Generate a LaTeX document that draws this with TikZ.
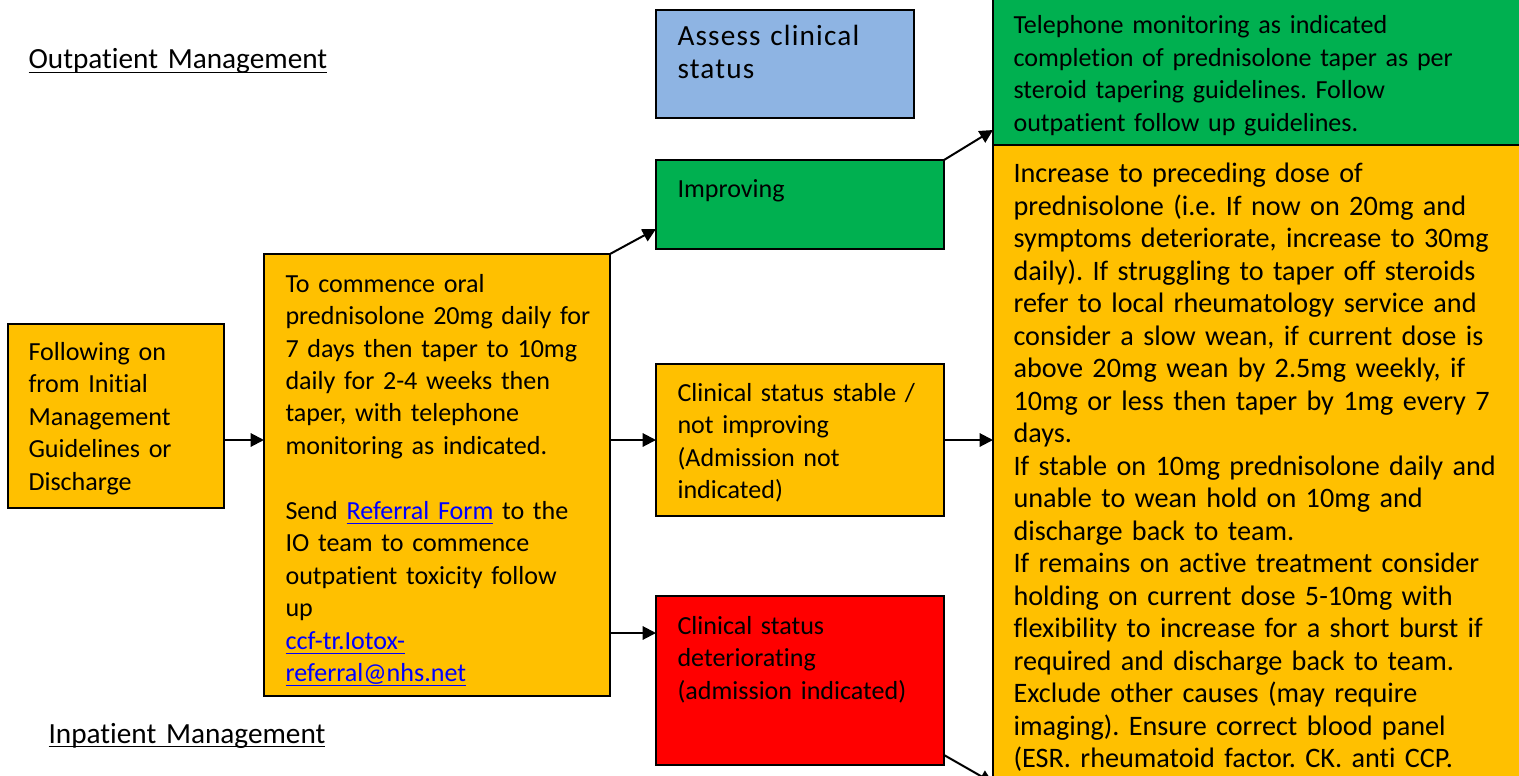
\documentclass[tikz,border=0pt]{standalone}
\usepackage{fontspec}
\setmainfont{Carlito}[Ligatures=NoCommon]
\newfontfamily\spacedfont{Carlito}[LetterSpace=4,Ligatures=NoCommon]
\usetikzlibrary{arrows.meta,calc}
\definecolor{boxorange}{RGB}{255,192,0}
\definecolor{boxgreen}{RGB}{0,176,80}
\definecolor{boxblue}{RGB}{142,180,227}
\definecolor{boxred}{RGB}{255,0,0}
\definecolor{linkblue}{RGB}{0,0,255}
\newcommand{\pxu}{0.376pt}
\newcommand{\ulin}[1]{\underline{\smash{#1}}}
\newcommand{\lnk}[1]{\textcolor{linkblue}{\ulin{#1}}}
\frenchspacing
\tikzset{
  box/.style 2 args={draw=black, line width=1pt, anchor=north west, inner sep=0pt, outer sep=0pt,
    minimum width=#1*\pxu, minimum height=#2*\pxu},
  txt/.style={anchor=base west, inner sep=0pt, align=left, text width=240pt,
    font=\fontsize{#1}{12.22}\selectfont},
  txt/.default=9.8,
  flow/.style={-{Triangle[length=5pt,width=5pt]}, line width=0.75pt},
}
\begin{document}
\begin{tikzpicture}[x=\pxu,y=\pxu,yscale=-1]
\useasboundingbox (0,0) rectangle (1519,776);
\clip (0,0) rectangle (1519,776);

%Shape: Rectangle
\node[box={216}{184}, fill=boxorange] (follow) at (8,324) {};
\node[box={346}{442}, fill=boxorange] (plan) at (264,254) {};
\node[box={258}{108}, fill=boxblue] (assess) at (656,10) {};
\node[box={288}{89}, fill=boxgreen] (improving) at (656,160) {};
\node[box={288}{152}, fill=boxorange] (stable) at (656,364) {};
\node[box={288}{169}, fill=boxred] (worse) at (656,596) {};
\node[box={600}{165}, fill=boxgreen] (steady) at (993,-20) {};
\node[box={600}{700}, fill=boxorange] (escalate) at (993,145) {};

% Text Node
\node[txt=11] (outhead) at (28,69) {\ulin{Outpatient Management}};
% Text Node
\node[txt=11] (inhead) at (48,743) {\ulin{Inpatient Management}};
% Text Node
\node[txt] (followtxt) at (28,360) {Following on\\from Initial\\Management\\Guidelines or\\Discharge};
% Text Node
\node[txt] (plantxt) at (285,292) {To commence oral\\prednisolone 20mg daily for\\7 days then taper to 10mg\\daily for 2-4 weeks then\\taper, with telephone\\monitoring as indicated.\\\mbox{}\\Send \lnk{Referral Form} to the\\IO team to commence\\outpatient toxicity follow\\up\\\lnk{ccf-tr.Iotox-}\\\lnk{referral@nhs.net}};
% Text Node
\node[txt=11] (assesstxt) at (677,46) {\spacedfont Assess clinical\\status};
% Text Node
\node[txt] (improvingtxt) at (677,197) {Improving};
% Text Node
\node[txt] (stabletxt) at (677,401) {Clinical status stable /\\not improving\\(Admission not\\indicated)};
% Text Node
\node[txt] (worsetxt) at (677,634) {Clinical status\\deteriorating\\(admission indicated)};
% Text Node
\node[txt] (steadytxt) at (1013,34) {Telephone monitoring as indicated\\completion of prednisolone taper as per\\steroid tapering guidelines. Follow\\outpatient follow up guidelines.};
% Text Node
\node[txt=10.6] (escalatetxt) at (1013,183) {Increase to preceding dose of\\prednisolone (i.e. If now on 20mg and\\symptoms deteriorate, increase to 30mg\\daily). If struggling to taper off steroids\\refer to local rheumatology service and\\consider a slow wean, if current dose is\\above 20mg wean by 2.5mg weekly, if\\10mg or less then taper by 1mg every 7\\days.\\If stable on 10mg prednisolone daily and\\unable to wean hold on 10mg and\\discharge back to team.\\If remains on active treatment consider\\holding on current dose 5-10mg with\\flexibility to increase for a short burst if\\required and discharge back to team.\\Exclude other causes (may require\\imaging). Ensure correct blood panel\\(ESR. rheumatoid factor. CK. anti CCP.};

%Straight Lines
\coordinate (impIn) at ($(improving.south west)+(0,-20)$);
\coordinate (steadyIn) at ($(steady.south west)+(0,-15)$);
\coordinate (worseIn) at ($(worse.north west)+(0,37)$);
\coordinate (worseOut) at ($(worse.south east)+(0,-10)$);
\coordinate (inpt) at (993,783);
\draw[flow] (follow.east |- stable.west) -- (plan.west |- stable.west);
\draw[flow] (plan.north east) -- (impIn);
\draw[flow] (plan.east |- stable.west) -- (stable.west);
\draw[flow] (plan.east |- worseIn) -- (worseIn);
\draw[flow] (improving.north east) -- (steadyIn);
\draw[flow] (stable.east) -- (escalate.west |- stable.east);
\draw[flow] (worseOut) -- (inpt);

\end{tikzpicture}
\end{document}
